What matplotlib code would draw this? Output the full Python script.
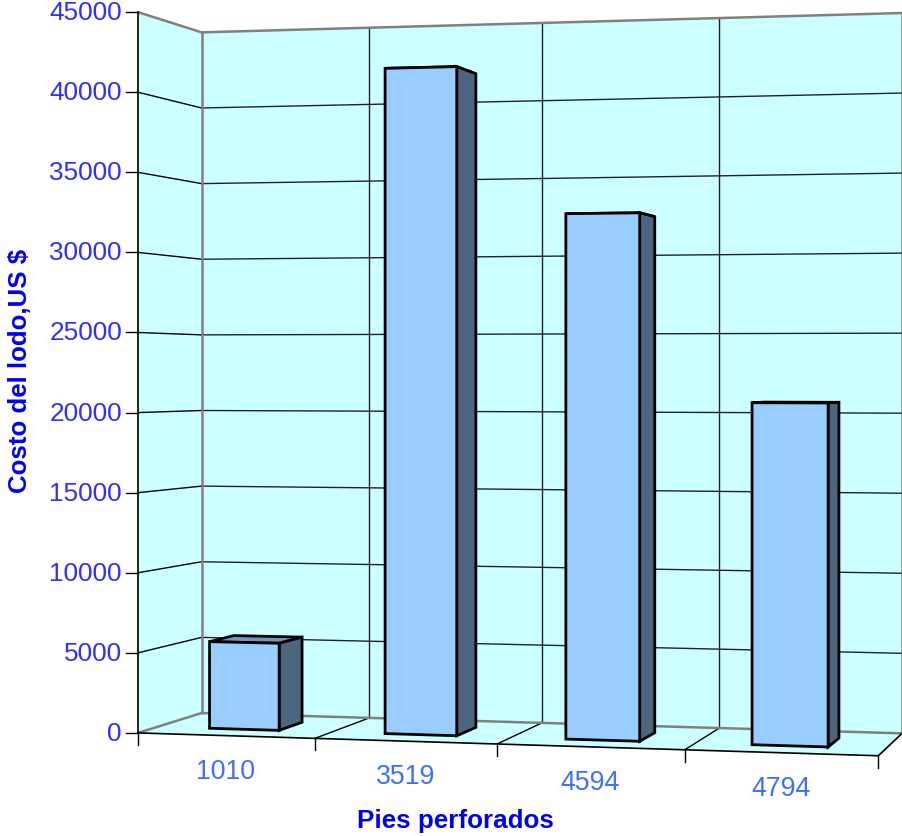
import numpy as np
import matplotlib
matplotlib.use("Agg")
import matplotlib.pyplot as plt
from matplotlib.patches import Polygon

categories = ["1010", "3519", "4594", "4794"]
costs = [5480, 41480, 32280, 20700]
y_ticks = [0, 5000, 10000, 15000, 20000, 25000, 30000, 35000, 40000, 45000]
y_title = "Costo del lodo,US $"
x_title = "Pies perforados"

W, H = 903, 836
VMAX = y_ticks[-1]
NCAT = len(categories)
BAR_U = (0.3, 0.7)   # bar extent inside a category slot
BAR_W = (0.3, 0.7)   # bar extent along the depth axis

# Calibration of the oblique view: (slot, value, depth) -> pixel
calib = [
    (0, 0, 0, 138, 733), (1, 0, 0, 315, 738), (2, 0, 0, 497, 744), (3, 0, 0, 685, 750),
    (4, 0, 0, 878, 756), (0, 0, 1, 201.5, 713), (1, 0, 1, 369.5, 718), (2, 0, 1, 542, 723),
    (3, 0, 1, 719, 728), (4, 0, 1, 902, 733), (0, 45000, 0, 138, 12),
    (0, 45000, 1, 201.5, 32.5), (4, 45000, 1, 902.5, 13),
]
A, b = [], []
for u, v, w, px, py in calib:
    A.append([u, w, 1, 0, 0, 0, 0, -u * px, -w * px]); b.append(px)
    A.append([0, 0, 0, u, w, 1, v / VMAX, -u * py, -w * py]); b.append(py)
P = np.linalg.lstsq(np.array(A, float), np.array(b, float), rcond=None)[0]


def proj(u, v, w):
    d = 1 + P[7] * u + P[8] * w
    return ((P[0] * u + P[1] * w + P[2]) / d,
            (P[3] * u + P[4] * w + P[5] + P[6] * v / VMAX) / d)


plt.rcParams["font.family"] = ["Liberation Sans", "DejaVu Sans"]
fig = plt.figure(figsize=(W / 100, H / 100), dpi=100)
ax = fig.add_axes([0, 0, 1, 1])
ax.set_xlim(0, W)
ax.set_ylim(H, 0)
ax.axis("off")

WALL = "#CCFFFF"
EDGE = "#808080"
FRONT = "#99CCFF"
SIDE = "#4D6680"
TOP = "#7396BF"


def poly(pts, fc, ec="none", lw=0, z=1):
    ax.add_patch(Polygon(pts, closed=True, fc=fc, ec=ec, lw=lw, zorder=z, joinstyle="miter"))


def line(p, q, color="black", lw=1.0, z=2):
    ax.plot([p[0], q[0]], [p[1], q[1]], color=color, lw=lw, zorder=z, solid_capstyle="round")


# walls and floor
poly([proj(0, 0, 0), proj(0, VMAX, 0), proj(0, VMAX, 1), proj(0, 0, 1)], WALL)
poly([proj(0, 0, 1), proj(0, VMAX, 1), proj(NCAT, VMAX, 1), proj(NCAT, 0, 1)], WALL)
poly([proj(0, 0, 0), proj(0, 0, 1), proj(NCAT, 0, 1), proj(NCAT, 0, 0)], WALL)

# gridlines
for t in y_ticks[1:-1]:
    line(proj(0, t, 0), proj(0, t, 1), lw=1.0)
    line(proj(0, t, 1), proj(NCAT, t, 1), color="#222222", lw=1.0)
for i in range(1, NCAT):
    line(proj(i, 0, 1), proj(i, VMAX, 1), color="#222222", lw=1.0)
    line(proj(i, 0, 0), proj(i, 0, 1), lw=1.0)

# wall edges
line(proj(0, VMAX, 0), proj(0, VMAX, 1), EDGE, 1.8, 3)
line(proj(0, VMAX, 1), proj(NCAT, VMAX, 1), EDGE, 1.8, 3)
line(proj(0, 0, 1), proj(0, VMAX, 1), EDGE, 1.8, 3)
line(proj(NCAT, 0, 1), proj(NCAT, VMAX, 1), EDGE, 1.8, 3)
line(proj(0, 0, 1), proj(NCAT, 0, 1), EDGE, 1.8, 3)
line(proj(0, 0, 0), proj(0, 0, 1), EDGE, 1.8, 3)
line(proj(NCAT, 0, 0), proj(NCAT, 0, 1), "black", 1.2, 3)

# bars
for i, val in enumerate(costs):
    u0, u1 = i + BAR_U[0], i + BAR_U[1]
    w0, w1 = BAR_W
    kw = dict(ec="black", lw=2.0, z=5)
    poly([proj(u0, val, w0), proj(u1, val, w0), proj(u1, val, w1), proj(u0, val, w1)], TOP, **kw)
    poly([proj(u1, 0, w0), proj(u1, val, w0), proj(u1, val, w1), proj(u1, 0, w1)], SIDE, **kw)
    poly([proj(u0, 0, w0), proj(u0, val, w0), proj(u1, val, w0), proj(u1, 0, w0)], FRONT, **kw)

# axes
line(proj(0, 0, 0), proj(0, VMAX, 0), lw=1.2, z=4)
line(proj(0, 0, 0), proj(NCAT, 0, 0), lw=1.2, z=4)
TICK_L = 12
for t in y_ticks:
    x, y = proj(0, t, 0)
    ax.plot([x - TICK_L, x], [y, y], color="black", lw=1.0, zorder=4)
    ax.text(x - 16, y + 1, f"{t}", ha="right", va="center", color="#2F2FFF", fontsize=18.8)
for i in range(NCAT + 1):
    x, y = proj(i, 0, 0)
    ax.plot([x, x], [y, y + TICK_L], color="black", lw=1.0, zorder=4)
for i, lab in enumerate(categories):
    x, y = proj(i + 0.5, 0, 0)
    ax.text(x, y + 36, lab, ha="center", va="center", color="#3F6FFF", fontsize=19.2)

ax.text(17, 371, y_title, rotation=90, ha="center", va="center", color="#0000F0",
        fontsize=18.6, fontweight="bold", transform=ax.transData + matplotlib.transforms.ScaledTranslation(3 / 100, 0, fig.dpi_scale_trans))
ax.text(455, 821, x_title, ha="center", va="center", color="#0000F0",
        fontsize=18.7, fontweight="bold")

fig.savefig("out.png", dpi=100)
